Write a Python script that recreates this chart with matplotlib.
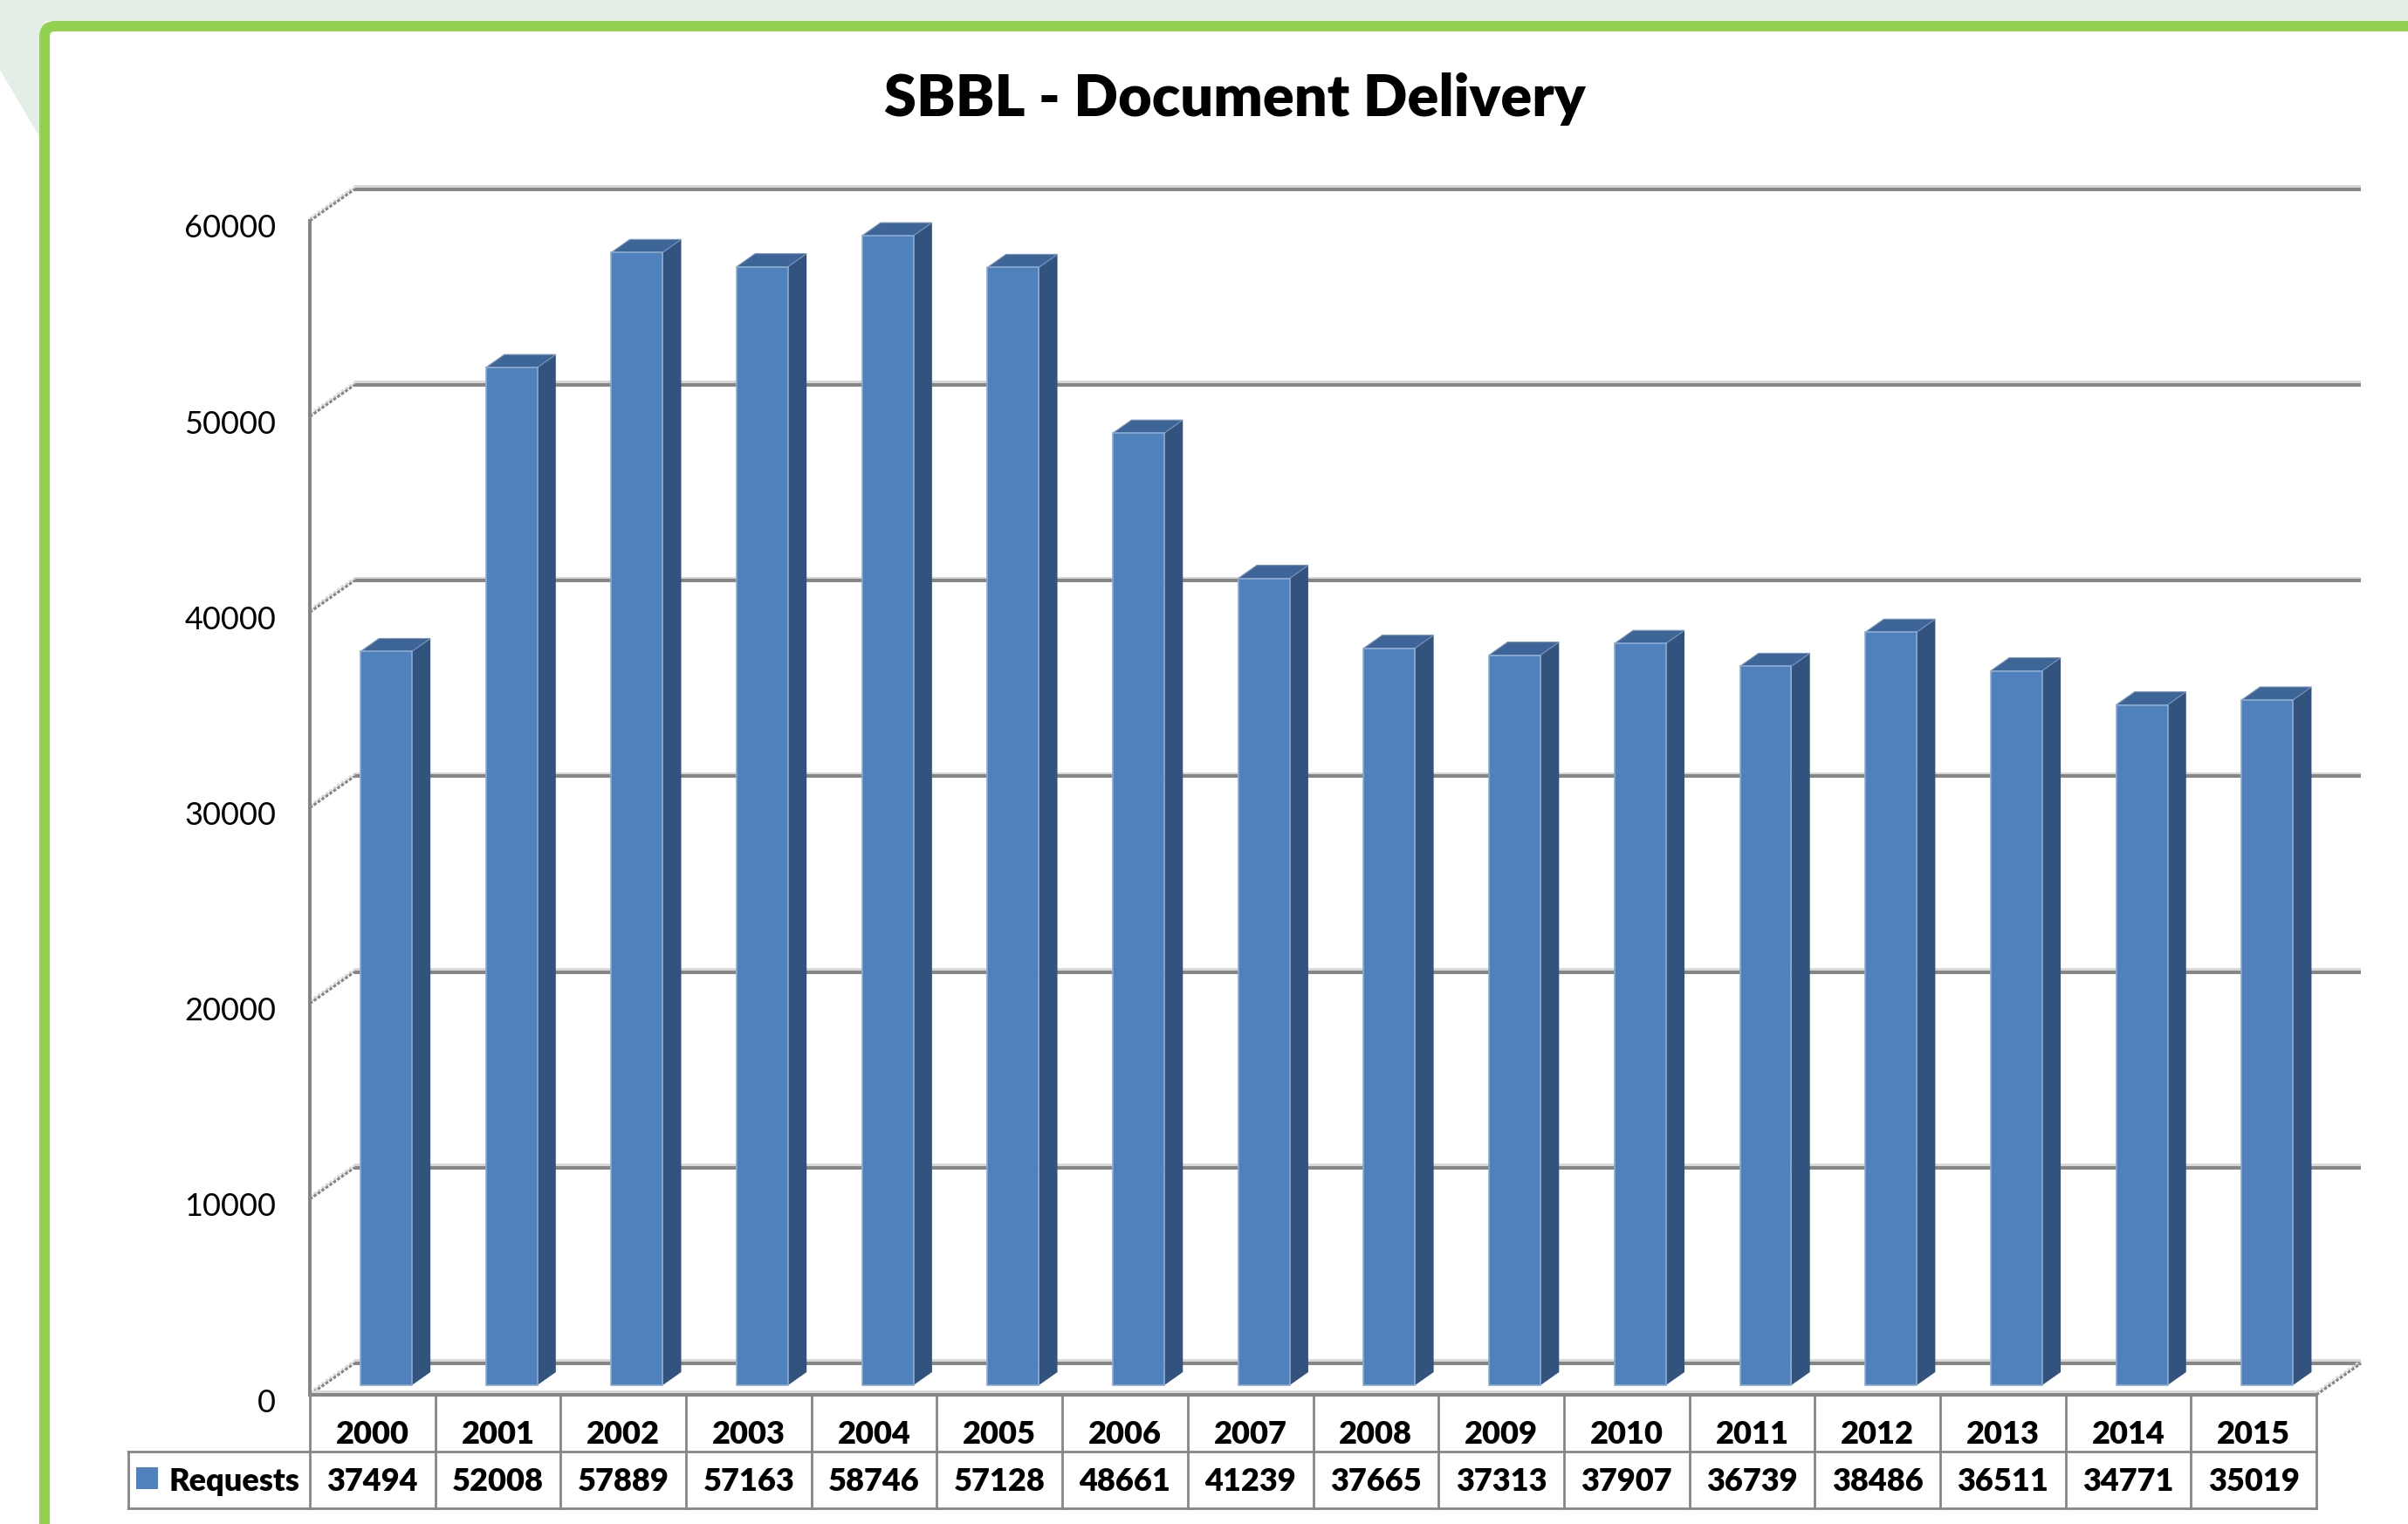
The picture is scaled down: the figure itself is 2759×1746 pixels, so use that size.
import matplotlib
matplotlib.use("Agg")
import matplotlib.pyplot as plt
from matplotlib.patches import Polygon, Rectangle, FancyBboxPatch
from matplotlib.transforms import IdentityTransform, ScaledTranslation
import matplotlib.patheffects as pe

# Data
years = ["2000", "2001", "2002", "2003", "2004", "2005", "2006", "2007",
         "2008", "2009", "2010", "2011", "2012", "2013", "2014", "2015"]
requests = [37494, 52008, 57889, 57163, 58746, 57128, 48661, 41239,
            37665, 37313, 37907, 36739, 38486, 36511, 34771, 35019]
yticks = [0, 10000, 20000, 30000, 40000, 50000, 60000]
series_name = "Requests"
title = "SBBL - Document Delivery"

FONT = "Lato"
plt.rcParams["font.family"] = [FONT, "DejaVu Sans"]

W, H = 2759, 1746
fig = plt.figure(figsize=(W / 100, H / 100), dpi=100)
fig.patch.set_facecolor("white")

# slide background + green frame
bg = "#E3EEE6"
fig.patches.append(Rectangle((0, H - 24), W, 24, transform=IdentityTransform(),
                             facecolor=bg, edgecolor="none", zorder=0))
fig.patches.append(Polygon([(0, H), (52, H), (52, H - 158), (46, H - 158), (0, H - 80)],
                           closed=True, transform=IdentityTransform(),
                           facecolor=bg, edgecolor="none", zorder=0))
fig.patches.append(FancyBboxPatch((51, -60), W + 100, H - 30 + 60,
                                  boxstyle="round,pad=0,rounding_size=12",
                                  transform=IdentityTransform(), facecolor="none",
                                  edgecolor="#92D050", linewidth=8.6, zorder=1))

fig.text(1415 / W, 1 - 133 / H, title, ha="center", va="baseline",
         fontsize=48, fontweight="heavy", color="black")

ax = fig.add_axes([355 / W, 1 - 1598 / H, 2299 / W, 1345 / H])
ax.set_xlim(0, len(years))
ax.set_ylim(0, 60000)
ax.patch.set_alpha(0)

grid_c = "#868686"
hl = [pe.SimpleLineShadow(offset=(0, 2), shadow_color="#D9D9D9", alpha=1, rho=1), pe.Normal()]

# depth of the 3D box (in category units / value units)
DX, DY = 0.355, 1606
n = len(years)

for v in yticks:
    ax.plot([DX, n + DX], [v + DY, v + DY], color=grid_c, lw=2.9, clip_on=False,
            solid_capstyle="butt", path_effects=hl, zorder=1)
    ax.plot([0, DX], [v, v + DY], color=grid_c, lw=2.2, clip_on=False,
            linestyle=(0, (1.2, 0.6)), path_effects=hl, zorder=1)
ax.plot([n, n + DX], [0, DY], color=grid_c, lw=2.2, clip_on=False,
        linestyle=(0, (1.2, 0.6)), path_effects=hl, zorder=1)
ax.plot([0, n], [0, 0], color=grid_c, lw=2.9, clip_on=False,
        solid_capstyle="butt", path_effects=hl, zorder=5)

# 3D columns
front_c, side_c, top_c = "#4F81BD", "#32537D", "#3E6597"
d0, d1 = 0.306, 0.722
bw0, bw1 = 0.295, 0.705
for i, v in enumerate(requests):
    xl, xr = i + bw0 + d0 * DX, i + bw1 + d0 * DX
    yb, yt = d0 * DY, v + d0 * DY
    ex, ey = (d1 - d0) * DX, (d1 - d0) * DY
    ax.add_patch(Polygon([(xr, yb), (xr + ex, yb + ey), (xr + ex, yt + ey), (xr, yt)],
                         closed=True, facecolor=side_c, edgecolor="none", zorder=3))
    ax.add_patch(Polygon([(xl, yt), (xr, yt), (xr + ex, yt + ey), (xl + ex, yt + ey)],
                         closed=True, facecolor=top_c, edgecolor="#7B95BA", lw=0.8, zorder=3))
    ax.add_patch(Polygon([(xl, yb), (xr, yb), (xr, yt), (xl, yt)],
                         closed=True, facecolor=front_c, edgecolor="#8FAAD0", lw=1.2, zorder=4))

# axes styling
for s in ["top", "right", "bottom"]:
    ax.spines[s].set_visible(False)
ax.spines["left"].set_color(grid_c)
ax.spines["left"].set_linewidth(2.9)
ax.spines["left"].set_zorder(5)
ax.set_xticks([])
ax.set_yticks(yticks)
ax.set_yticklabels([str(t) for t in yticks])
ax.tick_params(axis="y", length=0, pad=28, labelsize=26)
for lab in ax.get_yticklabels():
    lab.set_transform(lab.get_transform() + ScaledTranslation(0, -0.06, fig.dpi_scale_trans))

# data table under the chart
tr = ax.get_xaxis_transform()
row_mid = -65 / 1345
row_bot = -130 / 1345
left_x = -208 / 143.7
tbl_kw = dict(color=grid_c, lw=2.0, clip_on=False, transform=tr, zorder=5,
              solid_capstyle="projecting")
for i in range(n + 1):
    ax.plot([i, i], [0, row_bot], **tbl_kw)
ax.plot([left_x, n], [row_mid, row_mid], **tbl_kw)
ax.plot([left_x, n], [row_bot, row_bot], **tbl_kw)
ax.plot([left_x, left_x], [row_mid, row_bot], **tbl_kw)

for i, (yr, v) in enumerate(zip(years, requests)):
    ax.text(i + 0.5, -46 / 1345, yr, transform=tr, ha="center", va="center",
            fontsize=26, fontweight="heavy")
    ax.text(i + 0.5, -100 / 1345, str(v), transform=tr, ha="center", va="center",
            fontsize=26, fontweight="heavy")

ax.add_patch(Rectangle((-199 / 143.7, -108 / 1345), 25 / 143.7, 25 / 1345,
                       transform=tr, facecolor=front_c, edgecolor="none", clip_on=False))
ax.text(-162 / 143.7, -100 / 1345, series_name, transform=tr, ha="left", va="center",
        fontsize=26, fontweight="heavy")

fig.savefig("out.png", dpi=100)
